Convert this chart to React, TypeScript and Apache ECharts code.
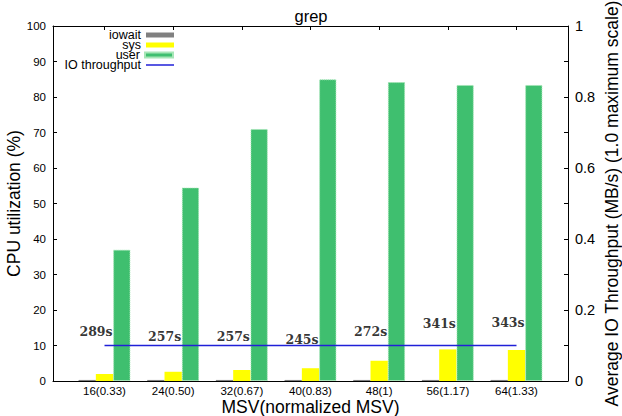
import React, { useEffect, useRef } from "react";
import * as echarts from "echarts";

// MSV settings (normalized MSV in parentheses)
const categories = ["16(0.33)", "24(0.50)", "32(0.67)", "40(0.83)", "48(1)", "56(1.17)", "64(1.33)"];
// CPU utilization breakdown (%)
const iowait = [0.3, 0.3, 0.3, 0.3, 0.3, 0.3, 0.3];
const sys = [2.0, 2.6, 3.1, 3.6, 5.7, 8.9, 8.7];
const user = [37.0, 54.5, 71.0, 85.0, 84.2, 83.4, 83.4];
// Average IO throughput (fraction of 1.0 MB/s scale)
const ioThroughput = [0.1, 0.1, 0.1, 0.1, 0.1, 0.1, 0.1];
// Run time annotations and the CPU-% level each one is written at
const runTimes = ["289s", "257s", "257s", "245s", "272s", "341s", "343s"];
const runTimeLevels = [13.9, 12.5, 12.5, 11.8, 13.9, 16.3, 16.6];
// Axis ticks
const leftTicks = { min: 0, max: 100, step: 10 };
const rightTicks = { min: 0, max: 1, step: 0.1 };

const SANS = "Liberation Sans, Arial, Helvetica, sans-serif";
const idx = categories.map((_, i) => i);
const BAR_W = 17.3;

export default function App() {
  const ref = useRef<HTMLDivElement>(null);

  useEffect(() => {
    if (!ref.current) return;
    document.body.style.margin = "0";
    const chart = echarts.init(ref.current, null, { renderer: "svg" });

    const frame = { show: true, onZero: false, lineStyle: { color: "#000", width: 1 } };
    const xBase = {
      type: "value" as const,
      min: -0.75,
      max: 6.75,
      axisLine: frame,
      splitLine: { show: false },
    };

    const legendRow = (name: string, top: number, height: number, icon: string) => ({
      data: [{ name, icon }],
      right: 448,
      top,
      padding: 0,
      itemWidth: 28,
      itemHeight: height,
      itemGap: 0,
      align: "right" as const,
      selectedMode: false,
      textStyle: { fontFamily: SANS, fontSize: 12.5, color: "#000", lineHeight: 12 },
    });

    chart.setOption({
      animation: false,
      backgroundColor: "#fff",
      title: {
        text: "grep",
        left: "center",
        top: 2,
        textStyle: { fontFamily: SANS, fontSize: 16.5, fontWeight: "normal", color: "#000" },
      },
      legend: [
        legendRow("iowait", 28.5, 5, "rect"),
        legendRow("sys", 38.5, 5, "rect"),
        legendRow("user", 48.5, 5, "rect"),
        legendRow("IO throughput", 58.5, 1.5, "rect"),
      ],
      grid: { left: 53, right: 54, top: 26, bottom: 35, outerBoundsMode: "none", containLabel: false },
      xAxis: [
        {
          ...xBase,
          position: "bottom",
          name: "MSV(normalized MSV)",
          nameLocation: "middle",
          nameGap: 17,
          nameMoveOverlap: false,
          nameTextStyle: { fontFamily: SANS, fontSize: 17.5, color: "#000" },
          axisTick: { show: true, inside: true, length: 4, customValues: idx, lineStyle: { color: "#000" } },
          axisLabel: {
            show: true,
            customValues: idx,
            margin: 4,
            fontFamily: SANS,
            fontSize: 11.5,
            color: "#000",
            formatter: (v: number) => categories[Math.round(v)] ?? "",
          },
        },
        {
          ...xBase,
          position: "top",
          axisTick: { show: true, inside: true, length: 4, customValues: idx, lineStyle: { color: "#000" } },
          axisLabel: { show: false },
        },
      ],
      yAxis: [
        {
          type: "value",
          position: "left",
          min: leftTicks.min,
          max: leftTicks.max,
          interval: leftTicks.step,
          name: "CPU utilization (%)",
          nameLocation: "middle",
          nameGap: 30,
          nameMoveOverlap: false,
          nameTextStyle: { fontFamily: SANS, fontSize: 17.5, color: "#000" },
          axisLine: frame,
          axisTick: { show: true, inside: true, length: 4, lineStyle: { color: "#000" } },
          axisLabel: { margin: 7, fontFamily: SANS, fontSize: 11.5, color: "#000" },
          splitLine: { show: false },
        },
        {
          type: "value",
          position: "right",
          min: rightTicks.min,
          max: rightTicks.max,
          interval: rightTicks.step,
          name: "Average IO Throughput (MB/s) (1.0 maximum scale)",
          nameLocation: "middle",
          nameGap: 35,
          nameMoveOverlap: false,
          nameTextStyle: { fontFamily: SANS, fontSize: 17.5, color: "#000" },
          axisLine: frame,
          axisTick: { show: true, inside: true, length: 4, lineStyle: { color: "#000" } },
          axisLabel: {
            margin: 7,
            fontFamily: SANS,
            fontSize: 14.5,
            color: "#000",
            formatter: (v: number) => {
              const t = Math.round(v * 10);
              return t % 2 === 0 ? String(t / 10) : "";
            },
          },
          splitLine: { show: false },
        },
      ],
      series: [
        {
          name: "iowait",
          type: "bar",
          barWidth: BAR_W,
          barGap: "0%",
          itemStyle: { color: "#808080" },
          data: iowait.map((v, i) => [i, v]),
        },
        {
          name: "sys",
          type: "bar",
          barWidth: BAR_W,
          barGap: "0%",
          itemStyle: { color: "#ffff00" },
          data: sys.map((v, i) => [i, v]),
        },
        {
          name: "user",
          type: "bar",
          barWidth: BAR_W,
          barGap: "0%",
          itemStyle: { color: "#3fbf6f", borderColor: "#a6e6b6", borderWidth: 1, borderType: "dotted" },
          data: user.map((v, i) => [i, v]),
        },
        {
          name: "IO throughput",
          type: "line",
          yAxisIndex: 1,
          symbol: "none",
          z: 5,
          itemStyle: { color: "#2020d8" },
          lineStyle: { color: "#2020d8", width: 1.3 },
          data: ioThroughput.map((v, i) => [i, v]),
        },
        {
          name: "runtime",
          type: "scatter",
          silent: true,
          symbolSize: 0,
          z: 6,
          itemStyle: { color: "transparent" },
          label: {
            show: true,
            position: "inside",
            offset: [-8.5, 0],
            fontFamily: "DejaVu Serif, serif",
            fontWeight: "bold",
            fontSize: 12.5,
            color: "#000",
            formatter: (p: any) => runTimes[p.dataIndex],
          },
          data: runTimeLevels.map((v, i) => [i, v]),
        },
      ],
    });

    return () => chart.dispose();
  }, []);

  return <div ref={ref} style={{ width: 622, height: 416 }} />;
}
